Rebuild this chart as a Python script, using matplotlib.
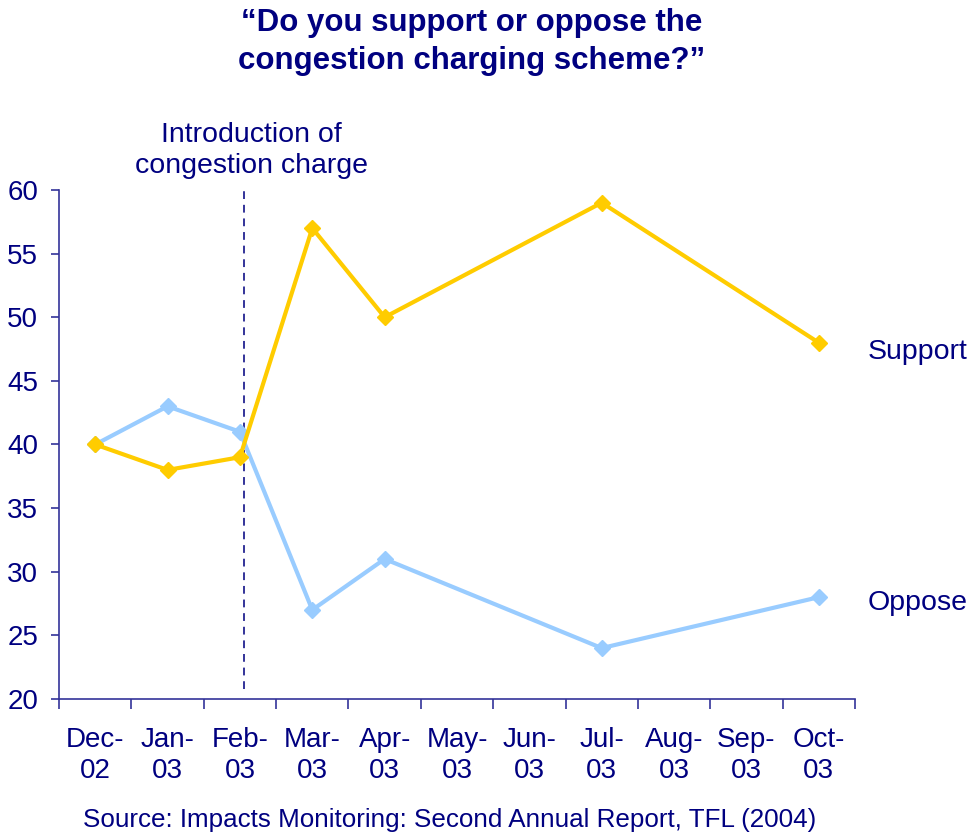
import matplotlib
matplotlib.use("Agg")
import matplotlib.pyplot as plt
from matplotlib.ticker import FixedLocator, NullFormatter

plt.rcParams['font.family'] = ['Liberation Sans', 'DejaVu Sans']

months = ["Dec-\n02", "Jan-\n03", "Feb-\n03", "Mar-\n03", "Apr-\n03", "May-\n03",
          "Jun-\n03", "Jul-\n03", "Aug-\n03", "Sep-\n03", "Oct-\n03"]
survey_idx = [0, 1, 2, 3, 4, 7, 10]
support = [40, 38, 39, 57, 50, 59, 48]
oppose = [40, 43, 41, 27, 31, 24, 28]
intro_x = 2.06

navy = "#000080"
axcol = "#333399"

fig = plt.figure(figsize=(9.71, 8.34), dpi=100)
ax = fig.add_axes([0.0608, 0.1619, 0.8197, 0.6103])

ax.plot(survey_idx, oppose, color="#99CCFF", lw=3, marker="D", ms=8, zorder=3)
ax.plot(survey_idx, support, color="#FFCC00", lw=3, marker="D", ms=8, zorder=4)
ax.axvline(intro_x, ymin=0.02, ymax=1.0, color=axcol, lw=1.4, ls=(0, (4, 3)), zorder=2)

ax.set_xlim(-0.5, 10.5)
ax.set_ylim(20, 60)
ax.set_yticks(range(20, 61, 5))
ax.set_xticks(range(len(months)))
ax.set_xticklabels(months, fontsize=20, color=navy, linespacing=1.25)
ax.tick_params(axis='x', which='major', length=0, pad=20)
ax.xaxis.set_minor_locator(FixedLocator([i - 0.5 for i in range(len(months) + 1)]))
ax.xaxis.set_minor_formatter(NullFormatter())
ax.tick_params(axis='x', which='minor', length=7, color=axcol, width=1.2)
ax.tick_params(axis='y', length=6, color=axcol, width=1.2, labelsize=20, labelcolor=navy, pad=9)

for s in ['top', 'right']:
    ax.spines[s].set_visible(False)
for s in ['left', 'bottom']:
    ax.spines[s].set_color(axcol)
    ax.spines[s].set_linewidth(1.2)

ax.text(10.68, 46.72, "Support", fontsize=20.5, color=navy, va='baseline', ha='left', clip_on=False)
ax.text(10.68, 27.0, "Oppose", fontsize=20.5, color=navy, va='baseline', ha='left', clip_on=False)
ax.text(2.16, 60.9, "Introduction of\ncongestion charge", fontsize=20.5, color=navy,
        ha='center', va='bottom', linespacing=1.25, clip_on=False)

fig.text(0.486, 0.950, "\u201cDo you support or oppose the\ncongestion charging scheme?\u201d",
         fontsize=22.5, fontweight='bold', color=navy, ha='center', va='center', linespacing=1.35)
fig.text(0.463, 0.017, "Source: Impacts Monitoring: Second Annual Report, TFL (2004)",
         fontsize=18.7, color=navy, ha='center', va='center')

fig.savefig("out.png", dpi=100)
